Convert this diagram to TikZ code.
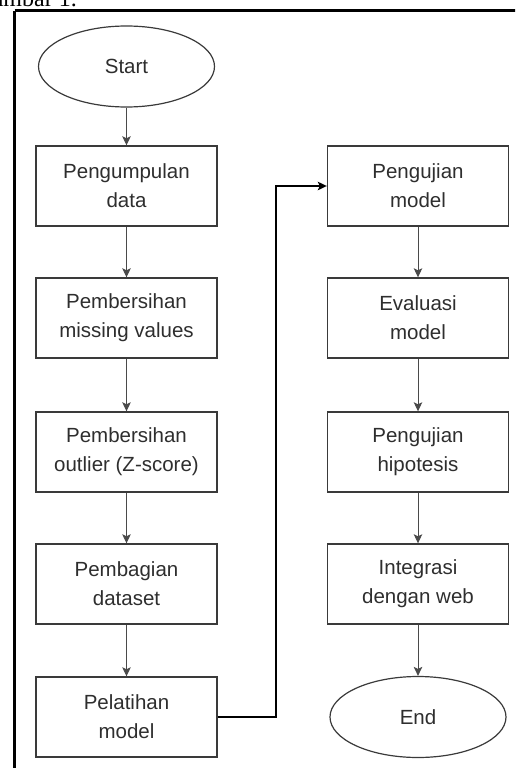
\documentclass[tikz,border=0pt]{standalone}
\usepackage{fontspec}
\setmainfont{Liberation Sans}
\newfontfamily\capfont{Liberation Serif}
\usetikzlibrary{shapes.geometric,arrows.meta}
\definecolor{boxline}{HTML}{3A3A3A}
\definecolor{txt}{HTML}{2E2E2E}
\definecolor{arrline}{HTML}{4A4A4A}
\tikzset{
  stepbox/.style={draw=boxline, line width=1.4pt, rectangle, minimum width=181pt, minimum height=80pt, inner sep=0pt, align=center, text=txt, font=\fontsize{20.5}{29}\selectfont},
  term/.style={draw=boxline, line width=1.2pt, ellipse, minimum width=176pt, minimum height=81pt, inner sep=0pt, align=center, text=txt, font=\fontsize{20.5}{29}\selectfont},
  arr/.style={draw=arrline, line width=1pt, -{Stealth[length=9pt,width=8.5pt,inset=2pt]}, shorten >=0pt},
  arrb/.style={draw=black, line width=1.5pt, -{Stealth[length=9pt,width=8.5pt,inset=2pt]}},
}
\begin{document}
\begin{tikzpicture}[x=1pt,y=-1pt]
\useasboundingbox (0,0) rectangle (515,768);
\clip (0,0) rectangle (515,768);
% caption fragment
\node[anchor=base east, inner sep=0pt, font=\capfont\fontsize{24}{24}\selectfont] (cap) at (77,7) {Gambar 1.};
% outer frame
\draw[line width=2.6pt, black] (14.7,10.7) -- (540,10.7);
\draw[line width=2.6pt, black] (14.7,10.7) -- (14.7,800);
% left column
\node[term] (start) at (126.5,66.5) {Start};
\node[stepbox] (b1) at (126.5,186) {Pengumpulan\\data};
\node[stepbox] (b2) at (126.5,318) {Pembersihan\\missing values};
\node[stepbox] (b3) at (126.5,452) {Pembersihan\\outlier (Z-score)};
\node[stepbox] (b4) at (126.5,584) {Pembagian\\dataset};
\node[stepbox] (b5) at (126.5,717) {Pelatihan\\model};
% right column
\node[stepbox] (r1) at (418,186) {Pengujian\\model};
\node[stepbox] (r2) at (418,318) {Evaluasi\\model};
\node[stepbox] (r3) at (418,452) {Pengujian\\hipotesis};
\node[stepbox] (r4) at (418,584) {Integrasi\\dengan web};
\node[term] (end) at (418,717) {End};
% connectors
\draw[arr] (start) -- (b1);
\draw[arr] (b1) -- (b2);
\draw[arr] (b2) -- (b3);
\draw[arr] (b3) -- (b4);
\draw[arr] (b4) -- (b5);
\coordinate (elbx) at (276,0);
\draw[arrb] (b5.east) -- (b5.east -| elbx) |- (r1.west);
\draw[arr] (r1) -- (r2);
\draw[arr] (r2) -- (r3);
\draw[arr] (r3) -- (r4);
\draw[arr] (r4) -- (end);
\end{tikzpicture}
\end{document}
